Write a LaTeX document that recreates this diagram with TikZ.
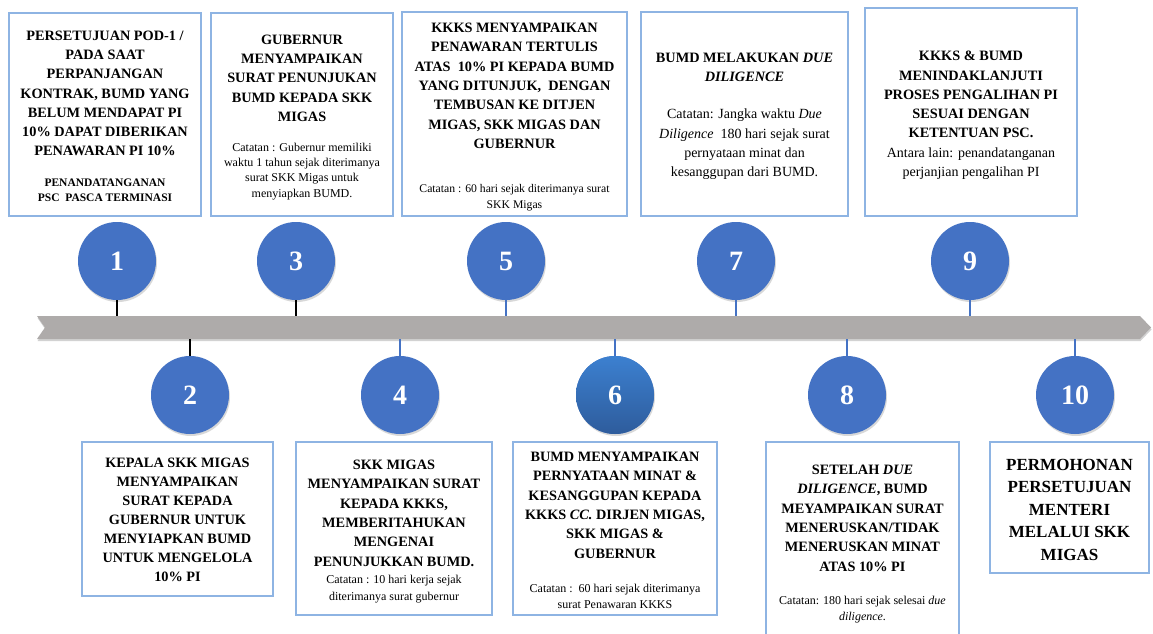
\documentclass[tikz,border=0pt]{standalone}
\usepackage{fontspec}
\setmainfont{Liberation Serif}
\usetikzlibrary{shadows}
\definecolor{dotblue}{RGB}{68,114,196}
\definecolor{boxline}{RGB}{142,180,227}
\definecolor{bargray}{RGB}{174,171,170}
\definecolor{sixtop}{RGB}{60,128,208}
\definecolor{sixbot}{RGB}{46,92,156}
\tikzset{
  card/.style={draw=boxline, line width=1.1pt, fill=white, inner sep=0pt},
  dot/.style={circle, fill=dotblue, minimum size=78pt, inner sep=0pt, text=white,
    font=\fontsize{28}{28}\selectfont\bfseries,
    drop shadow={shadow xshift=1pt, shadow yshift=-2pt, opacity=0.3}},
  head/.style={align=center, inner sep=0pt, anchor=north, font=\fontsize{14.3}{19.3}\selectfont\bfseries},
  note/.style={align=center, inner sep=0pt, anchor=north, font=\fontsize{12}{15.4}\selectfont},
  tickk/.style={line width=1.5pt, black},
  tickb/.style={line width=1.5pt, dotblue},
}
\begin{document}
\begin{tikzpicture}[x=1pt,y=-1pt]
\useasboundingbox[fill=white] (0,0) rectangle (1153,634);

% timeline bar
\path[fill=bargray, drop shadow={shadow xshift=0.5pt, shadow yshift=-2pt, opacity=0.35}]
  (37,316) -- (1140,316) -- (1151,327.5) -- (1140,339) -- (37,339) -- (45,327.5) -- cycle;
\coordinate (t1) at (117,316);
\coordinate (t3) at (296,316);
\coordinate (t5) at (506,316);
\coordinate (t7) at (736,316);
\coordinate (t9) at (970,316);
\coordinate (t2) at (190,339);
\coordinate (t4) at (400,339);
\coordinate (t6) at (615,339);
\coordinate (t8) at (847,339);
\coordinate (t10) at (1075,339);

% circles
\node[dot] (c1) at (117,261) {1};
\node[dot] (c3) at (296,261) {3};
\node[dot] (c5) at (506,261) {5};
\node[dot] (c7) at (736,261) {7};
\node[dot] (c9) at (970,261) {9};
\node[dot] (c2) at (190,395) {2};
\node[dot] (c4) at (400,395) {4};
\node[dot, top color=sixtop, bottom color=sixbot] (c6) at (615,395) {6};
\node[dot] (c8) at (847,395) {8};
\node[dot] (c10) at (1075,395) {10};

% ticks
\draw[tickk] (c1.south) -- (t1);
\draw[tickk] (c3.south) -- (t3);
\draw[tickb] (c5.south) -- (t5);
\draw[tickb] (c7.south) -- (t7);
\draw[tickb] (c9.south) -- (t9);
\draw[tickk] (t2) -- (c2.north);
\draw[tickb] (t4) -- (c4.north);
\draw[tickb] (t6) -- (c6.north);
\draw[tickb] (t8) -- (c8.north);
\draw[tickb] (t10) -- (c10.north);

% top boxes
\node[card, minimum width=192pt, minimum height=203pt] (b1) at (105,114.5) {};
\node[head] (h1) at (105,30.5) {PERSETUJUAN POD-1 /\\PADA SAAT\\PERPANJANGAN\\KONTRAK, BUMD YANG\\BELUM MENDAPAT PI\\10\% DAPAT DIBERIKAN\\PENAWARAN PI 10\%};
\node[align=center, inner sep=0pt, anchor=north, font=\fontsize{11.5}{14.5}\selectfont\bfseries] (n1) at (105,179) {PENANDATANGANAN\\PSC~~PASCA TERMINASI};

\node[card, minimum width=182pt, minimum height=203pt] (b3) at (302,114.5) {};
\node[head] (h3) at (302,34.5) {GUBERNUR\\MENYAMPAIKAN\\SURAT PENUNJUKAN\\BUMD KEPADA SKK\\MIGAS};
\node[note] (n3) at (302,142.5) {Catatan : Gubernur memiliki\\waktu 1 tahun sejak diterimanya\\surat SKK Migas untuk\\menyiapkan BUMD.};

\node[card, minimum width=225pt, minimum height=204pt] (b5) at (514.5,114) {};
\node[head] (h5) at (514.5,23) {KKKS MENYAMPAIKAN\\PENAWARAN TERTULIS\\ATAS~~10\% PI KEPADA BUMD\\YANG DITUNJUK,~~DENGAN\\TEMBUSAN KE DITJEN\\MIGAS, SKK MIGAS DAN\\GUBERNUR};
\node[note, font=\fontsize{11.7}{16}\selectfont] (n5) at (514.5,184) {Catatan : 60 hari sejak diterimanya surat\\SKK Migas};

\node[card, minimum width=207pt, minimum height=204pt] (b7) at (744.5,114) {};
\node[head, font=\fontsize{14.3}{18.5}\selectfont\bfseries] (h7) at (744.5,53) {BUMD MELAKUKAN \textit{DUE}\\\textit{DILIGENCE}};
\node[note, font=\fontsize{14}{19.2}\selectfont] (n7) at (744.5,109) {Catatan: Jangka waktu \textit{Due}\\\textit{Diligence}~~180 hari sejak surat\\pernyataan minat dan\\kesanggupan dari BUMD.};

\node[card, minimum width=212pt, minimum height=208pt] (b9) at (971,112) {};
\node[head] (h9) at (971,51) {KKKS \& BUMD\\MENINDAKLANJUTI\\PROSES PENGALIHAN PI\\SESUAI DENGAN\\KETENTUAN PSC.};
\node[note, font=\fontsize{14}{19.3}\selectfont] (n9) at (971,147.5) {Antara lain: penandatanganan\\perjanjian pengalihan PI};

% bottom boxes
\node[card, minimum width=191pt, minimum height=154pt] (b2) at (177.5,519) {};
\node[head, font=\fontsize{14.3}{19}\selectfont\bfseries] (h2) at (177.5,458) {KEPALA SKK MIGAS\\MENYAMPAIKAN\\SURAT KEPADA\\GUBERNUR UNTUK\\MENYIAPKAN BUMD\\UNTUK MENGELOLA\\10\% PI};

\node[card, minimum width=196pt, minimum height=173pt] (b4) at (394,528.5) {};
\node[head] (h4) at (394,460) {SKK MIGAS\\MENYAMPAIKAN SURAT\\KEPADA KKKS,\\MEMBERITAHUKAN\\MENGENAI\\PENUNJUKKAN BUMD.};
\node[note, font=\fontsize{12}{17}\selectfont] (n4) at (394,575) {Catatan : 10 hari kerja sejak\\diterimanya surat gubernur};

\node[card, minimum width=204pt, minimum height=173pt] (b6) at (615,528.5) {};
\node[head] (h6) at (615,452) {BUMD MENYAMPAIKAN\\PERNYATAAN MINAT \&\\KESANGGUPAN KEPADA\\KKKS \textit{CC.} DIRJEN MIGAS,\\SKK MIGAS \&\\GUBERNUR};
\node[note, font=\fontsize{12}{16}\selectfont] (n6) at (615,584) {Catatan :~~60 hari sejak diterimanya\\surat Penawaran KKKS};

\node[card, minimum width=193pt, minimum height=200pt] (b8) at (862.5,542) {};
\node[head] (h8) at (862.5,465) {SETELAH \textit{DUE}\\\textit{DILIGENCE}, BUMD\\MEYAMPAIKAN SURAT\\MENERUSKAN/TIDAK\\MENERUSKAN MINAT\\ATAS 10\% PI};
\node[note, font=\fontsize{12}{15.5}\selectfont] (n8) at (862.5,596) {Catatan: 180 hari sejak selesai \textit{due}\\\textit{diligence.}};

\node[card, minimum width=159pt, minimum height=131pt] (b10) at (1069.5,507.5) {};
\node[align=center, inner sep=0pt, anchor=north, font=\fontsize{17}{22.5}\selectfont\bfseries] (h10) at (1069.5,459) {PERMOHONAN\\PERSETUJUAN\\MENTERI\\MELALUI SKK\\MIGAS};
\end{tikzpicture}
\end{document}
